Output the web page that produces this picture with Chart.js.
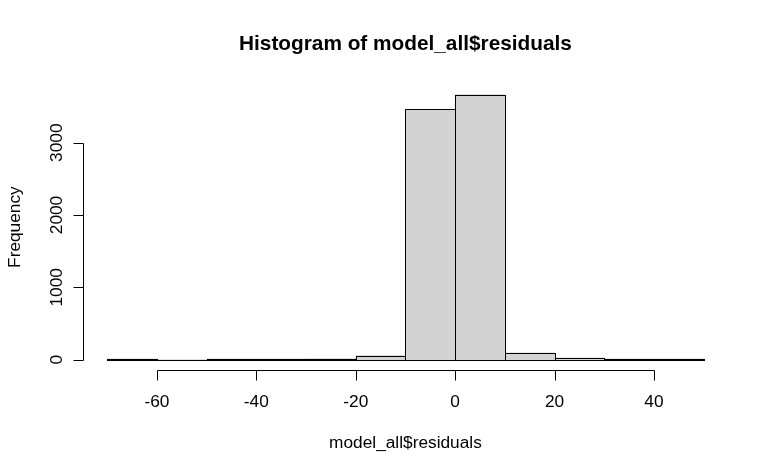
<!DOCTYPE html>
<html>
<head>
<meta charset="utf-8">
<script src="https://cdn.jsdelivr.net/npm/chart.js@4"></script>
<style>
  html, body { margin: 0; padding: 0; background: #fff; overflow: hidden; }
  canvas { display: block; }
</style>
</head>
<body>
<canvas id="hist" width="770" height="475"></canvas>
<script>
const binEdges = [-70, -60, -50, -40, -30, -20, -10, 0, 10, 20, 30, 40, 50]
const counts = [12, 0, 10, 11, 14, 55, 3460, 3665, 92, 25, 12, 10]
const xTicks = [-60, -40, -20, 0, 20, 40]
const yTicks = [0, 1000, 2000, 3000]
const mainTitle = "Histogram of model_all$residuals"
const xTitle = "model_all$residuals"
const yTitle = "Frequency"

const font = "'Liberation Sans', Arial, sans-serif"

// R pads the data range by 4% on each side
const xSpan = binEdges[binEdges.length - 1] - binEdges[0]
const yTop = Math.max(...counts)
const xMin = binEdges[0] - 0.04 * xSpan
const xMax = binEdges[binEdges.length - 1] + 0.04 * xSpan
const yMin = -0.04 * yTop
const yMax = yTop * 1.04

const bins = counts.map((c, i) => ({ x: (binEdges[i] + binEdges[i + 1]) / 2, y: c }))

const half = v => Math.round(v) + 0.5

// base-graphics style axes, outlines and labels
const rStyle = {
  id: "rStyle",
  afterDraw(chart) {
    const { ctx, chartArea: a, scales: { x, y } } = chart
    ctx.save()
    ctx.strokeStyle = "#000"
    ctx.fillStyle = "#000"
    ctx.lineWidth = 1

    // bar outlines (zero-height bins still show as a line)
    chart.getDatasetMeta(0).data.forEach(bar => {
      const p = bar.getProps(["x", "y", "base", "width"], true)
      const l = half(p.x - p.width / 2)
      const r = half(p.x + p.width / 2)
      const t = half(p.y)
      const b = half(p.base)
      ctx.strokeRect(l, t, r - l, b - t)
    })

    // x axis
    const ax = half(a.bottom)
    ctx.beginPath()
    ctx.moveTo(half(x.getPixelForValue(xTicks[0])), ax)
    ctx.lineTo(half(x.getPixelForValue(xTicks[xTicks.length - 1])), ax)
    xTicks.forEach(v => {
      const px = half(x.getPixelForValue(v))
      ctx.moveTo(px, ax)
      ctx.lineTo(px, ax + 10)
    })
    ctx.stroke()
    ctx.font = "17.3px " + font
    ctx.textAlign = "center"
    ctx.textBaseline = "alphabetic"
    xTicks.forEach(v => ctx.fillText(String(v), x.getPixelForValue(v), 406.5))

    // y axis
    const ay = half(a.left)
    ctx.beginPath()
    ctx.moveTo(ay, half(y.getPixelForValue(yTicks[0])))
    ctx.lineTo(ay, half(y.getPixelForValue(yTicks[yTicks.length - 1])))
    yTicks.forEach(v => {
      const py = half(y.getPixelForValue(v))
      ctx.moveTo(ay, py)
      ctx.lineTo(ay - 10, py)
    })
    ctx.stroke()
    yTicks.forEach(v => {
      ctx.save()
      ctx.translate(62, y.getPixelForValue(v))
      ctx.rotate(-Math.PI / 2)
      ctx.fillText(String(v), 0, 0)
      ctx.restore()
    })

    // titles
    const cx = (a.left + a.right) / 2
    ctx.fillText(xTitle, cx, 448)
    ctx.save()
    ctx.translate(20, (a.top + a.bottom) / 2)
    ctx.rotate(-Math.PI / 2)
    ctx.fillText(yTitle, 0, 0)
    ctx.restore()
    ctx.font = "bold 20.8px " + font
    ctx.fillText(mainTitle, cx, 50)

    ctx.restore()
  },
}

new Chart(document.getElementById("hist"), {
  type: "bar",
  data: {
    datasets: [
      {
        data: bins,
        backgroundColor: "#D3D3D3",
        borderWidth: 0,
        barPercentage: 1,
        categoryPercentage: 1,
      },
    ],
  },
  options: {
    responsive: false,
    animation: false,
    devicePixelRatio: 1,
    layout: { padding: { left: 83.4, right: 42.5, top: 84, bottom: 104.8 } },
    scales: {
      x: { type: "linear", min: xMin, max: xMax, offset: false, display: false },
      y: { type: "linear", min: yMin, max: yMax, display: false },
    },
    plugins: {
      legend: { display: false },
      tooltip: { enabled: false },
    },
  },
  plugins: [rStyle],
})
</script>
</body>
</html>
